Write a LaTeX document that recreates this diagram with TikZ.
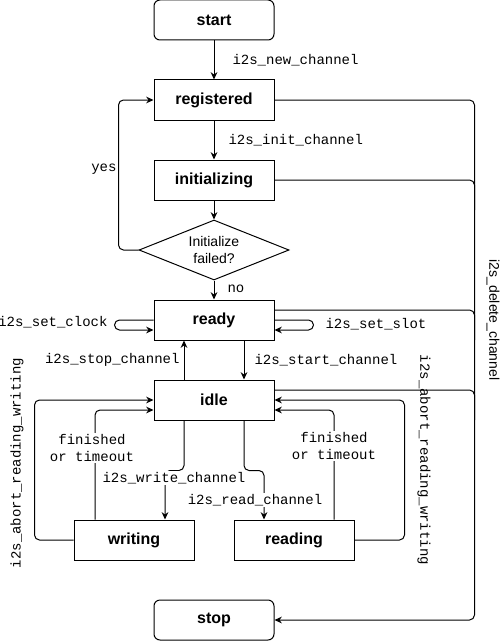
\documentclass[tikz,border=0pt]{standalone}
\usepackage{fontspec}
\setmainfont{Liberation Sans}
\setmonofont{Liberation Mono}
\usetikzlibrary{positioning, arrows.meta, calc, shapes.geometric}

\begin{document}
\begin{tikzpicture}[x=0.75pt, y=-0.75pt, line width=0.75pt,
  state/.style={draw, minimum width=90pt, minimum height=30pt, inner sep=0pt, font=\fontsize{12}{14}\selectfont\bfseries},
  term/.style={state, rounded corners=4.5pt},
  link/.style={rounded corners=3.75pt},
  arr/.style={link, -{Stealth[length=5.5pt, width=5pt]}},
  lbl/.style={font=\ttfamily\fontsize{10.5}{12.5}\selectfont, inner sep=0pt},
  lblbg/.style={lbl, fill=white, align=center, inner sep=1pt}]
\useasboundingbox (0,0) rectangle (503,642);

\node[term] (start) at (214,20) {start};
\node[state] (reg) at (214,100) {registered};
\node[state] (init) at (214,180) {initializing};
\node[draw, diamond, aspect=2.5, minimum width=112.5pt, minimum height=45pt, inner sep=0pt, align=center, font=\fontsize{10.5}{12.5}\selectfont] (fail) at (214,250) {Initialize\\failed?};
\node[state] (ready) at (214,320) {ready};
\node[state] (idle) at (214,400) {idle};
\node[state] (writing) at (134,540) {writing};
\node[state] (reading) at (294,540) {reading};
\node[term] (stop) at (214,620) {stop};

\draw[arr] (start) -- (reg);
\node[lbl, anchor=west] (newlbl) at (232,60) {i2s\_new\_channel};
\draw[arr] (reg) -- (init);
\node[lbl, anchor=west] (initlbl) at (228,140) {i2s\_init\_channel};
\draw[arr] (init) -- (fail);
\draw[arr] (fail) -- (ready);
\node[lbl, anchor=west] (nolbl) at (227,289) {no};
\draw[arr] (fail.west) -- ++(-20,0) |- (reg.west);
\node[lbl, anchor=east] (yeslbl) at (117,169) {yes};

\draw[arr] (reg.east) -- ++(200,0) |- (stop.east);
\draw[link] (init.east) -- ++(200,0) -- ++(0,30);
\draw[link] ($(ready.east)+(0,-10)$) -- ++(200,0) -- ++(0,30);
\draw[link] ($(idle.east)+(0,-10)$) -- ++(200,0) -- ++(0,30);
\node[font=\fontsize{10.5}{12.5}\selectfont, inner sep=0pt, rotate=-90] (dellbl) at (493,320) {i2s\_delete\_channel};

\draw[arr] (ready.west) -- ++(-39,0) -- ++(0,10) -- ($(ready.west)+(0,10)$);
\node[lbl, anchor=east] (clocklbl) at (108,322) {i2s\_set\_clock};
\draw[arr] (ready.east) -- ++(39,0) -- ++(0,10) -- ($(ready.east)+(0,10)$);
\node[lbl, anchor=west] (slotlbl) at (325,324) {i2s\_set\_slot};

\draw[arr] ($(idle.north)+(-30,0)$) -- ($(ready.south)+(-30,0)$);
\node[lbl, anchor=east] (stoplbl) at (180,360) {i2s\_stop\_channel};
\draw[arr] ($(ready.south)+(30,0)$) -- ($(idle.north)+(30,0)$);
\node[lbl, anchor=west] (startlbl) at (254,360) {i2s\_start\_channel};

\draw[arr] ($(idle.south)+(-30,0)$) -- ++(0,50) -| ($(writing.north)+(31,0)$);
\node[lblbg] (writelbl) at (174,478) {i2s\_write\_channel};
\draw[arr] ($(idle.south)+(30,0)$) -- ++(0,50) -| ($(reading.north)+(-30,0)$);
\node[lblbg] (readlbl) at (255,500) {i2s\_read\_channel};

\draw[arr] ($(writing.north)+(-39,0)$) |- ($(idle.west)+(0,10)$);
\node[lblbg] (wdonelbl) at (92,448) {finished\\or timeout};
\draw[arr] (writing.west) -- ++(-39,0) |- (idle.west);
\node[lbl, rotate=90] (wabortlbl) at (17,463) {i2s\_abort\_reading\_writing};
\draw[arr] ($(reading.north)+(40,0)$) |- ($(idle.east)+(0,10)$);
\node[lblbg] (rdonelbl) at (334,446) {finished\\or timeout};
\draw[arr] (reading.east) -- ++(50,0) |- (idle.east);
\node[lbl, rotate=-90] (rabortlbl) at (424,460) {i2s\_abort\_reading\_writing};
\end{tikzpicture}
\end{document}
